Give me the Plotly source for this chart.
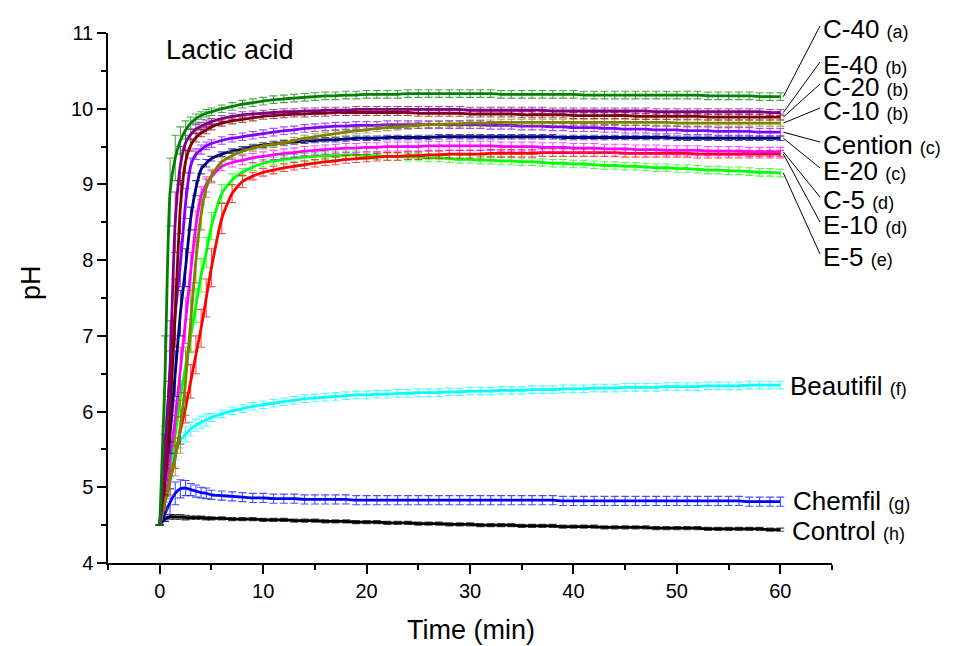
import plotly.graph_objects as go


def vals(s):
    return [float(v) for v in s.split()]


# ---------------- data ----------------
TIME = vals("0 0.5 1 1.5 2 2.5 3 3.5 4 4.5 "
            "5 6 7 8 9 10 11 12 13 14 15 16 17 18 19 20 21 22 23 24 25 26 27 28 29 30 "
            "31 32 33 34 35 36 37 38 39 40 41 42 43 44 45 46 47 48 49 50 51 52 53 54 55 56 57 58 59 60")

C40 = vals("4.50 6.40 8.90 9.35 9.58 9.72 9.81 9.87 9.91 9.94 "
           "9.96 10.00 10.03 10.06 10.08 10.10 10.12 10.13 10.14 10.15 "
           "10.16 10.17 10.17 10.18 10.18 10.19 10.19 10.19 10.19 10.20 "
           "10.20 10.20 10.20 10.20 10.20 10.20 10.20 10.20 10.19 10.19 "
           "10.19 10.19 10.19 10.19 10.19 10.19 10.18 10.18 10.18 10.18 "
           "10.18 10.18 10.18 10.18 10.18 10.18 10.18 10.18 10.17 10.17 "
           "10.17 10.17 10.17 10.16 10.16 10.16")
E40 = vals("4.50 5.40 6.60 8.50 9.25 9.55 9.66 9.73 9.77 9.80 "
           "9.83 9.87 9.90 9.92 9.93 9.94 9.95 9.96 9.96 9.97 "
           "9.97 9.98 9.98 9.98 9.99 9.99 9.99 9.99 9.99 9.99 "
           "9.99 9.99 9.99 9.99 9.99 9.98 9.98 9.98 9.98 9.98 "
           "9.98 9.98 9.98 9.97 9.97 9.97 9.97 9.97 9.97 9.97 "
           "9.97 9.97 9.97 9.96 9.96 9.96 9.96 9.96 9.96 9.96 "
           "9.96 9.96 9.96 9.96 9.95 9.95")
C20 = vals("4.50 5.10 6.00 7.30 8.70 9.30 9.52 9.62 9.68 9.72 "
           "9.76 9.81 9.84 9.86 9.88 9.90 9.91 9.92 9.93 9.93 "
           "9.94 9.94 9.95 9.95 9.95 9.95 9.95 9.95 9.95 9.95 "
           "9.94 9.94 9.94 9.94 9.94 9.93 9.93 9.93 9.93 9.93 "
           "9.92 9.92 9.92 9.92 9.92 9.91 9.91 9.91 9.91 9.91 "
           "9.91 9.90 9.90 9.90 9.90 9.90 9.90 9.90 9.89 9.89 "
           "9.89 9.89 9.89 9.89 9.89 9.89")
C10 = vals("4.50 4.80 5.10 5.40 5.80 6.40 7.20 8.00 8.60 8.95 "
           "9.12 9.30 9.38 9.44 9.48 9.51 9.53 9.55 9.58 9.61 "
           "9.63 9.65 9.67 9.69 9.71 9.72 9.74 9.75 9.76 9.77 "
           "9.78 9.79 9.79 9.80 9.80 9.81 9.81 9.81 9.82 9.82 "
           "9.82 9.82 9.82 9.82 9.82 9.82 9.82 9.82 9.82 9.82 "
           "9.82 9.82 9.82 9.82 9.82 9.81 9.81 9.81 9.81 9.81 "
           "9.81 9.81 9.81 9.81 9.81 9.81")
CENTION = vals("4.50 5.50 6.50 7.30 7.95 8.75 9.25 9.40 9.46 9.51 "
               "9.54 9.58 9.61 9.63 9.65 9.67 9.69 9.71 9.72 9.74 "
               "9.75 9.76 9.77 9.77 9.78 9.78 9.78 9.79 9.79 9.79 "
               "9.79 9.79 9.79 9.79 9.79 9.79 9.79 9.78 9.78 9.78 "
               "9.77 9.77 9.77 9.76 9.76 9.75 9.75 9.75 9.74 9.74 "
               "9.73 9.73 9.73 9.72 9.72 9.72 9.71 9.71 9.71 9.70 "
               "9.70 9.70 9.70 9.69 9.69 9.69")
E20 = vals("4.50 5.10 5.70 6.50 7.30 7.90 8.55 8.95 9.20 9.28 "
           "9.34 9.40 9.44 9.47 9.50 9.52 9.54 9.55 9.56 9.57 "
           "9.58 9.59 9.59 9.60 9.61 9.61 9.61 9.62 9.62 9.62 "
           "9.62 9.62 9.63 9.63 9.63 9.63 9.63 9.63 9.63 9.63 "
           "9.63 9.63 9.63 9.63 9.62 9.62 9.62 9.62 9.62 9.62 "
           "9.62 9.62 9.62 9.62 9.62 9.61 9.61 9.61 9.61 9.61 "
           "9.61 9.61 9.61 9.61 9.61 9.61")
C5 = vals("4.50 4.95 5.40 5.90 6.55 7.20 7.85 8.45 8.85 9.00 "
          "9.10 9.24 9.29 9.32 9.35 9.37 9.39 9.41 9.42 9.44 "
          "9.45 9.46 9.47 9.48 9.48 9.49 9.49 9.50 9.50 9.50 "
          "9.50 9.51 9.51 9.51 9.51 9.51 9.51 9.51 9.50 9.50 "
          "9.50 9.50 9.49 9.49 9.49 9.48 9.48 9.48 9.47 9.47 "
          "9.47 9.46 9.46 9.46 9.45 9.45 9.45 9.45 9.44 9.44 "
          "9.44 9.44 9.43 9.43 9.43 9.43")
E10 = vals("4.50 4.80 5.10 5.40 5.75 6.05 6.40 6.75 7.10 7.50 "
           "7.90 8.55 8.88 9.04 9.11 9.16 9.19 9.22 9.24 9.26 "
           "9.28 9.30 9.31 9.33 9.34 9.35 9.36 9.37 9.37 9.38 "
           "9.38 9.39 9.39 9.40 9.40 9.40 9.40 9.41 9.41 9.41 "
           "9.41 9.41 9.42 9.42 9.42 9.42 9.42 9.42 9.42 9.42 "
           "9.41 9.41 9.41 9.41 9.41 9.41 9.41 9.40 9.40 9.40 "
           "9.40 9.40 9.40 9.40 9.40 9.40")
E5 = vals("4.50 4.90 5.30 5.70 6.20 6.60 7.00 7.40 7.80 8.10 "
          "8.45 8.88 9.06 9.16 9.23 9.28 9.31 9.33 9.35 9.36 "
          "9.37 9.38 9.38 9.39 9.39 9.38 9.38 9.37 9.37 9.36 "
          "9.36 9.35 9.35 9.34 9.33 9.33 9.32 9.32 9.31 9.31 "
          "9.30 9.30 9.29 9.28 9.28 9.27 9.27 9.26 9.25 9.25 "
          "9.24 9.24 9.23 9.22 9.22 9.21 9.21 9.20 9.19 9.19 "
          "9.18 9.18 9.17 9.16 9.16 9.15")
BEAUTIFIL = vals("4.50 4.95 5.27 5.48 5.62 5.70 5.77 5.82 5.86 5.89 "
                 "5.92 5.97 6.01 6.04 6.07 6.09 6.11 6.13 6.15 6.17 "
                 "6.18 6.19 6.20 6.21 6.22 6.22 6.23 6.23 6.24 6.24 "
                 "6.25 6.25 6.25 6.26 6.26 6.27 6.27 6.27 6.28 6.28 "
                 "6.28 6.29 6.29 6.29 6.30 6.30 6.30 6.31 6.31 6.31 "
                 "6.32 6.32 6.32 6.32 6.33 6.33 6.33 6.33 6.34 6.34 "
                 "6.34 6.34 6.35 6.35 6.35 6.35")
CHEMFIL = vals("4.50 4.65 4.80 4.92 4.98 4.99 4.97 4.95 4.93 4.92 "
               "4.90 4.89 4.88 4.87 4.86 4.86 4.85 4.85 4.85 4.84 "
               "4.84 4.84 4.84 4.84 4.83 4.83 4.83 4.83 4.83 4.83 "
               "4.83 4.83 4.83 4.83 4.83 4.83 4.83 4.83 4.83 4.83 "
               "4.83 4.83 4.83 4.83 4.82 4.82 4.82 4.82 4.82 4.82 "
               "4.82 4.82 4.82 4.82 4.82 4.82 4.82 4.82 4.82 4.82 "
               "4.82 4.82 4.81 4.81 4.81 4.81")
CONTROL = vals("4.50 4.58 4.61 4.61 4.61 4.60 4.60 4.60 4.60 4.59 "
               "4.59 4.59 4.58 4.58 4.58 4.57 4.57 4.57 4.56 4.56 "
               "4.56 4.55 4.55 4.55 4.54 4.54 4.54 4.53 4.53 4.53 "
               "4.52 4.52 4.52 4.51 4.51 4.51 4.50 4.50 4.50 4.50 "
               "4.49 4.49 4.49 4.49 4.48 4.48 4.48 4.48 4.47 4.47 "
               "4.47 4.47 4.47 4.46 4.46 4.46 4.46 4.46 4.45 4.45 "
               "4.45 4.45 4.45 4.45 4.44 4.44")

# standard deviations (error bars)
C40_SD = vals("0 .60 .45 .30 .18 .12 .08 .06 .05 .05 " + ".05 " * 56)
E40_SD = vals("0 .30 .60 .40 .25 .10 .07 .06 .05 .05 " + ".04 " * 56)
C20_SD = vals("0 .20 .40 .45 .35 .15 .08 .06 .05 .05 " + ".04 " * 56)
C10_SD = vals("0 .10 .20 .25 .35 .45 .40 .30 .20 .12 .08 .06 .05 " + ".04 " * 53)
CENTION_SD = vals("0 .20 .30 .35 .30 .20 .10 .07 .06 .05 " + ".05 " * 56)
E20_SD = vals("0 .15 .25 .30 .30 .25 .15 .10 .06 .05 " + ".03 " * 56)
C5_SD = vals("0 .10 .20 .25 .30 .30 .25 .20 .12 .10 .08 " + ".06 " * 55)
E10_SD = vals("0 .08 .12 .15 .18 .20 .22 .25 .25 .25 .25 .20 .12 .08 " + ".05 " * 52)
E5_SD = vals("0 .10 .15 .18 .20 .20 .22 .22 .22 .20 .18 .12 .08 " + ".05 " * 53)
BEAUTIFIL_SD = vals("0 .15 .15 .12 .10 .10 .09 .08 .08 .08 " + ".05 " * 56)
CHEMFIL_SD = vals("0 .10 .18 .15 .12 .10 .08 .08 .07 .07 " + ".06 " * 56)
CONTROL_SD = vals("0 .03 .03 .03 .03 .03 .02 .02 .02 .02 " + ".02 " * 56)

NAMES = ["Control", "Chemfil", "Beautifil", "E-5", "E-10", "C-5", "E-20",
         "Cention", "C-10", "C-20", "E-40", "C-40"]
LETTERS = ["h", "g", "f", "e", "d", "d", "c", "c", "b", "b", "b", "a"]
SERIES = [CONTROL, CHEMFIL, BEAUTIFIL, E5, E10, C5, E20, CENTION, C10, C20, E40, C40]
ERRORS = [CONTROL_SD, CHEMFIL_SD, BEAUTIFIL_SD, E5_SD, E10_SD, C5_SD, E20_SD,
          CENTION_SD, C10_SD, C20_SD, E40_SD, C40_SD]

# ---------------- style ----------------
COLORS = ["#000000", "#0000FF", "#00FFFF", "#00FF00", "#FF0000", "#FF00FF",
          "#000080", "#8000FF", "#808000", "#800000", "#800080", "#008000"]

# label placement in page pixels (layout, not data): (text left x, text centre y, leader?)
LABEL_POS = {
    "C-40": (821, 29, True), "E-40": (821, 65, True), "C-20": (821, 87, True),
    "C-10": (821, 111, True), "Cention": (821, 145, True), "E-20": (821, 171, True),
    "C-5": (821, 200, True), "E-10": (821, 225, True), "E-5": (821, 257, True),
    "Beautifil": (788, 386, False), "Chemfil": (791, 501, False),
    "Control": (790, 531, False),
}

OFF = 8                      # page body margin of the browser
PAGE_W, PAGE_H = 955, 646
W, H = PAGE_W - OFF, PAGE_H - OFF
L, R, T, B = 108, 832, 33, 563   # plot area in page pixels
XR = [-5, 65]
YR = [4, 11]
FONT = "Liberation Sans, Arial, sans-serif"


def rgba(hexc, a):
    h = hexc.lstrip("#")
    return "rgba(%d,%d,%d,%.2f)" % (int(h[0:2], 16), int(h[2:4], 16), int(h[4:6], 16), a)


def px2paper(px, py):
    return (px - L) / (R - L), (B - py) / (B - T)


def data2paper(x, y):
    return (x - XR[0]) / (XR[1] - XR[0]), (y - YR[0]) / (YR[1] - YR[0])


fig = go.Figure()
for name, ys, es, col in zip(NAMES, SERIES, ERRORS, COLORS):
    fig.add_trace(go.Scatter(
        x=TIME, y=ys, mode="lines", name=name,
        line=dict(color=col, width=2.8, shape="spline", smoothing=0.6),
        error_y=dict(type="data", array=es, visible=True,
                     color=rgba(col, 0.7), thickness=1.1, width=4),
        showlegend=False,
    ))

annotations = []
shapes = []
for name, letter, ys in zip(NAMES, LETTERS, SERIES):
    lx, ly, leader = LABEL_POS[name]
    ax_, ay_ = px2paper(lx, ly)
    annotations.append(dict(
        xref="paper", yref="paper", x=ax_, y=ay_, xanchor="left", yanchor="middle",
        showarrow=False,
        text=name + ' <span style="font-size:18px">(' + letter + ')</span>',
        font=dict(family=FONT, size=26, color="black"),
    ))
    if leader:
        sx, sy = data2paper(60.3, ys[-1])
        ex, ey = px2paper(lx - 1, ly - 3)
        shapes.append(dict(type="line", xref="paper", yref="paper",
                           x0=sx, y0=sy, x1=ex, y1=ey,
                           line=dict(color="black", width=1)))

annotations.append(dict(xref="paper", yref="paper", x=px2paper(164, 50)[0],
                        y=px2paper(164, 50)[1], xanchor="left", yanchor="middle",
                        showarrow=False, text="Lactic acid",
                        font=dict(family=FONT, size=27, color="black")))
annotations.append(dict(xref="paper", yref="paper", x=px2paper(471, 630)[0],
                        y=px2paper(471, 630)[1], xanchor="center", yanchor="middle",
                        showarrow=False, text="Time (min)",
                        font=dict(family=FONT, size=27, color="black")))
annotations.append(dict(xref="paper", yref="paper", x=px2paper(31, 283)[0],
                        y=px2paper(31, 283)[1], xanchor="center", yanchor="middle",
                        showarrow=False, text="pH", textangle=-90,
                        font=dict(family=FONT, size=27, color="black")))

axis_common = dict(
    showgrid=False, zeroline=False, showline=True, linecolor="black", linewidth=1.5,
    ticks="outside", ticklen=9, tickwidth=1.5, tickcolor="black",
    tickfont=dict(family=FONT, size=20, color="black"),
)
fig.update_layout(
    width=W, height=H,
    margin=dict(l=L - OFF, r=PAGE_W - R, t=T - OFF, b=PAGE_H - B, pad=0),
    paper_bgcolor="white", plot_bgcolor="white",
    xaxis=dict(range=XR, tickmode="linear", tick0=0, dtick=10,
               minor=dict(dtick=5, tick0=0, ticks="outside", ticklen=5,
                          tickwidth=1.5, tickcolor="black"),
               **axis_common),
    yaxis=dict(range=YR, tickmode="linear", tick0=4, dtick=1,
               minor=dict(dtick=0.5, tick0=4, ticks="outside", ticklen=5,
                          tickwidth=1.5, tickcolor="black"),
               **axis_common),
    annotations=annotations,
    shapes=shapes,
)

fig.write_html("out.html")
